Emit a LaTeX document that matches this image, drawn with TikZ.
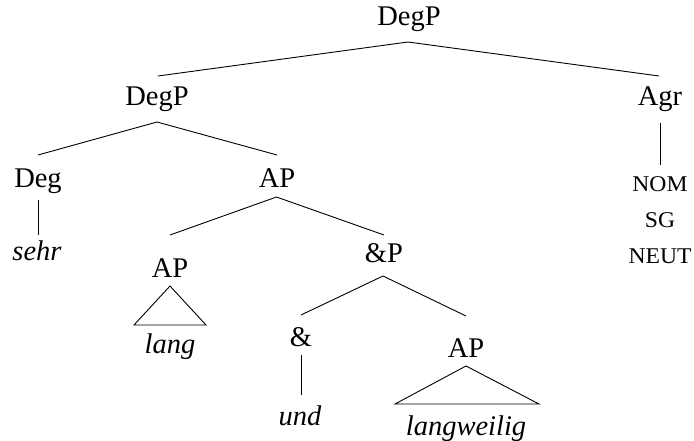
\documentclass[tikz,border=0pt]{standalone}
\usepackage{fontspec}
\setmainfont{Liberation Serif}
\begin{document}
\begin{tikzpicture}[x=1pt,y=-1pt,
  lbl/.style={anchor=base,inner sep=0pt,font=\fontsize{28.5}{34}\selectfont},
  wrd/.style={lbl,font=\fontsize{28.5}{34}\selectfont\itshape},
  feat/.style={anchor=base,inner sep=0pt,font=\fontsize{22.5}{26}\selectfont},
  branch/.style={line width=0.9pt}]
\useasboundingbox (0,0) rectangle (694,441);

% labels of the tree
\node[lbl] (d0)   at (409,26)  {DegP};
\node[lbl] (d1)   at (157,106) {DegP};
\node[lbl] (agr)  at (660,106) {Agr};
\node[lbl] (deg)  at (38,188)  {Deg};
\node[lbl] (ap1)  at (277,188) {AP};
\node[wrd] (sehr) at (37,260)  {sehr};
\node[lbl] (ap2)  at (170,277) {AP};
\node[lbl] (cp)   at (384,262) {\&P};
\node[wrd] (lang) at (170,353) {lang};
\node[lbl] (amp)  at (301,346) {\&};
\node[lbl] (ap3)  at (466,357) {AP};
\node[wrd] (und)  at (300,425) {und};
\node[wrd] (lw)   at (466,435) {langweilig};

% agreement features
\node[feat] (nom)  at (660,192) {\scalebox{1.05}[1]{NOM}};
\node[feat] (sg)   at (660,228) {\scalebox{1.05}[1]{SG}};
\node[feat] (neut) at (660,263) {\scalebox{1.05}[1]{NEUT}};

% attachment points of the branches
\coordinate (d0-b)   at (408,42);
\coordinate (d1-t)   at (158,76);
\coordinate (agr-t)  at (659,76);
\coordinate (agr-b)  at (660,123);
\coordinate (nom-t)  at (660,165);
\coordinate (d1-b)   at (157,122);
\coordinate (deg-t)  at (38,155);
\coordinate (ap1-t)  at (277,155);
\coordinate (deg-b)  at (38,200);
\coordinate (sehr-t) at (38,235);
\coordinate (ap1-b)  at (276.5,197);
\coordinate (ap2-t)  at (170,235);
\coordinate (cp-t)   at (384,235);
\coordinate (ap2-b)  at (170,286);
\coordinate (lang-l) at (134,325);
\coordinate (lang-r) at (206,325);
\coordinate (cp-b)   at (383,276);
\coordinate (amp-t)  at (301,315);
\coordinate (ap3-t)  at (466,316);
\coordinate (amp-b)  at (301,355);
\coordinate (und-t)  at (301,395);
\coordinate (ap3-b)  at (466,366);
\coordinate (lw-l)   at (395,404);
\coordinate (lw-r)   at (539,404);

% branches
\draw[branch] (d1-t) -- (d0-b) -- (agr-t);
\draw[branch] (agr-b) -- (nom-t);
\draw[branch] (deg-t) -- (d1-b) -- (ap1-t);
\draw[branch] (deg-b) -- (sehr-t);
\draw[branch] (ap2-t) -- (ap1-b) -- (cp-t);
\draw[branch] (amp-t) -- (cp-b) -- (ap3-t);
\draw[branch] (amp-b) -- (und-t);

% roofs
\draw[branch] (ap2-b) -- (lang-l) -- (lang-r) -- cycle;
\draw[branch] (ap3-b) -- (lw-l) -- (lw-r) -- cycle;
\end{tikzpicture}
\end{document}
